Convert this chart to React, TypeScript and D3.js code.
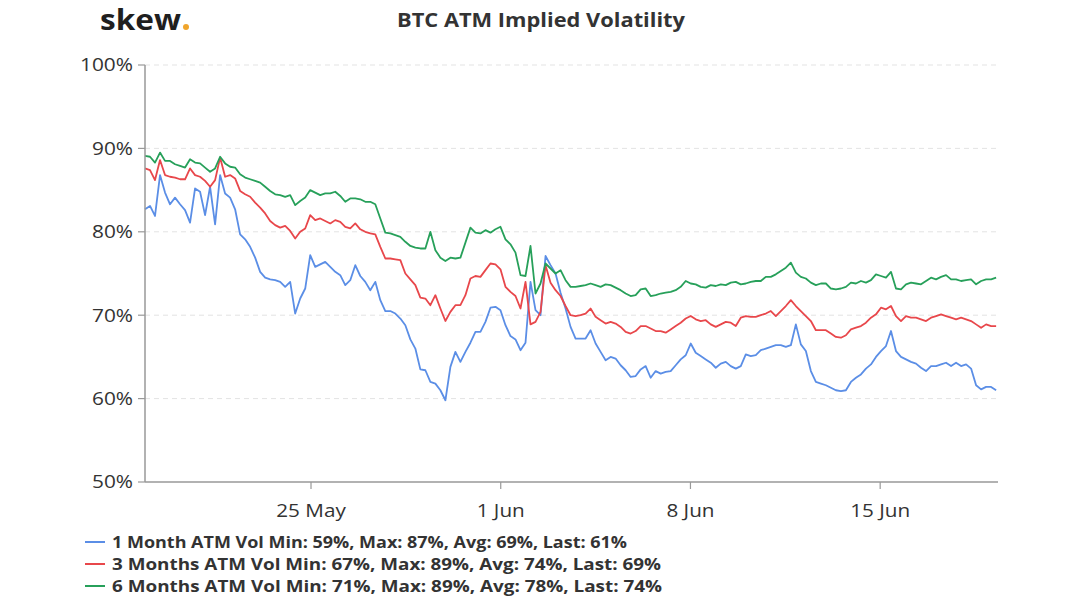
import React, { useEffect } from 'react';
import * as d3 from 'd3';

// ---- data ----
const START = new Date(2020, 4, 18, 21, 0);
const DOMAIN_END = new Date(2020, 5, 19, 8, 20);
const STEP_MINUTES = 266;

const oneMonth = [
  82.7, 83.1, 81.9, 86.8, 84.7, 83.3, 84.1, 83.3, 82.6, 81.1, 85.2, 84.8, 82.0, 85.4, 80.9, 86.8, 84.6, 84.1, 82.7, 79.7, 79.1, 78.2, 76.9, 75.2, 74.5, 74.3, 74.2, 74.0, 73.4, 74.0,
  70.2, 72.0, 73.2, 77.2, 75.8, 76.1, 76.4, 75.8, 75.2, 74.8, 73.6, 74.2, 76.0, 74.7, 74.0, 73.0, 74.0, 71.8, 70.5, 70.5, 70.2, 69.6, 68.8, 67.1, 66.0, 63.5, 63.4, 62.0, 61.8,
  61.0, 59.8, 63.8, 65.6, 64.4, 65.6, 66.7, 68.0, 68.0, 69.2, 70.9, 71.0, 70.6, 68.8, 67.5, 67.1, 65.8, 66.7, 74.0, 70.6, 70.0, 77.1, 76.0, 75.0, 72.7, 70.8, 68.6, 67.2, 67.2,
  67.2, 68.2, 66.6, 65.6, 64.6, 65.0, 64.8, 64.0, 63.4, 62.6, 62.7, 63.5, 63.9, 62.5, 63.3, 63.0, 63.2, 63.3, 64.0, 64.7, 65.2, 66.6, 65.5, 65.1, 64.7, 64.3, 63.7, 64.2, 64.4,
  63.9, 63.6, 63.9, 65.3, 65.1, 65.2, 65.8, 66.0, 66.2, 66.4, 66.4, 66.2, 66.4, 68.9, 66.5, 65.7, 63.3, 62.0, 61.8, 61.6, 61.3, 61.0, 60.9, 61.0, 62.0, 62.5, 62.9, 63.6, 64.1,
  65.0, 65.7, 66.3, 68.1, 65.7, 65.0, 64.7, 64.4, 64.2, 63.7, 63.3, 63.9, 63.9, 64.1, 64.3, 63.9, 64.3, 63.9, 64.1, 63.6, 61.6, 61.1, 61.4, 61.4, 61.0,
];

const threeMonths = [
  87.6, 87.4, 86.2, 88.6, 86.8, 86.6, 86.5, 86.3, 86.3, 87.6, 86.8, 86.6, 86.1, 85.4, 86.2, 88.9, 86.6, 86.8, 86.4, 84.9, 84.5, 84.2, 83.5, 82.9, 82.2, 81.3, 80.8, 80.5, 80.7, 80.1,
  79.2, 80.0, 80.4, 82.0, 81.4, 81.6, 81.3, 81.0, 81.4, 81.2, 80.6, 80.4, 81.0, 80.3, 80.0, 79.8, 79.7, 78.2, 76.8, 76.8, 76.7, 76.6, 75.0, 74.3, 73.6, 72.1, 72.0, 71.2, 72.4,
  70.8, 69.3, 70.4, 71.2, 71.2, 72.4, 74.4, 74.7, 74.6, 75.4, 76.2, 76.1, 75.5, 73.4, 72.8, 72.3, 70.8, 74.0, 68.9, 69.2, 70.4, 76.0, 73.9, 73.0, 72.3, 71.1, 70.0, 69.9, 70.0,
  70.2, 70.8, 69.8, 69.4, 69.0, 69.2, 69.0, 68.6, 68.0, 67.8, 68.1, 68.7, 68.7, 68.4, 68.1, 68.1, 67.9, 68.3, 68.7, 69.1, 69.6, 69.9, 69.5, 69.3, 69.4, 68.9, 68.6, 68.9, 69.2,
  69.1, 68.7, 69.7, 69.9, 69.8, 69.8, 70.0, 70.2, 70.5, 69.9, 70.5, 71.1, 71.8, 71.1, 70.5, 69.9, 69.3, 68.2, 68.2, 68.2, 67.8, 67.4, 67.3, 67.6, 68.3, 68.5, 68.7, 69.1, 69.7,
  70.1, 70.9, 70.7, 71.1, 69.9, 69.3, 69.9, 69.7, 69.7, 69.5, 69.3, 69.7, 69.9, 70.1, 69.9, 69.7, 69.5, 69.7, 69.5, 69.3, 68.9, 68.5, 68.9, 68.7, 68.7,
];

const sixMonths = [
  89.1, 89.0, 88.3, 89.5, 88.5, 88.5, 88.1, 87.9, 87.7, 88.7, 88.3, 88.2, 87.7, 87.2, 87.6, 89.0, 88.2, 87.8, 87.7, 86.9, 86.5, 86.3, 86.1, 85.9, 85.4, 84.9, 84.5, 84.4, 84.2, 84.4,
  83.2, 83.7, 84.1, 85.0, 84.7, 84.4, 84.6, 84.6, 84.8, 84.3, 83.6, 84.0, 84.0, 83.9, 83.6, 83.6, 83.3, 81.6, 79.9, 79.8, 79.6, 79.4, 78.8, 78.3, 78.1, 78.0, 78.0, 80.0, 77.8,
  76.9, 76.5, 76.9, 76.8, 76.9, 78.7, 80.5, 79.9, 79.8, 80.2, 79.9, 80.3, 80.6, 79.1, 78.5, 77.5, 74.8, 74.7, 78.3, 72.6, 73.8, 76.2, 75.6, 75.0, 75.4, 74.2, 73.4, 73.4, 73.5,
  73.6, 73.8, 73.6, 73.4, 73.7, 73.6, 73.3, 73.0, 72.6, 72.3, 72.4, 73.1, 73.2, 72.3, 72.4, 72.6, 72.7, 72.8, 73.0, 73.4, 74.1, 73.8, 73.7, 73.4, 73.3, 73.6, 73.5, 73.7, 73.6,
  73.9, 74.0, 73.7, 73.8, 74.0, 74.1, 74.1, 74.6, 74.6, 74.9, 75.3, 75.7, 76.3, 75.1, 74.6, 74.4, 73.9, 73.6, 73.8, 73.8, 73.2, 73.1, 73.2, 73.4, 73.9, 73.8, 74.1, 73.9, 74.2,
  74.9, 74.7, 74.5, 75.2, 73.2, 73.1, 73.7, 73.9, 73.8, 73.7, 74.1, 74.5, 74.3, 74.6, 74.8, 74.3, 74.3, 74.1, 74.2, 74.3, 73.7, 74.1, 74.3, 74.3, 74.5,
];

const yTicks = [50, 60, 70, 80, 90, 100];
const xTickDates = [new Date(2020, 4, 25), new Date(2020, 5, 1), new Date(2020, 5, 8), new Date(2020, 5, 15)];
const xTickLabels = ['25 May', '1 Jun', '8 Jun', '15 Jun'];

const seriesNames = ['1 Month ATM Vol', '3 Months ATM Vol', '6 Months ATM Vol'];
const seriesStats = [
  'Min: 59%, Max: 87%, Avg: 69%, Last: 61%',
  'Min: 67%, Max: 89%, Avg: 74%, Last: 69%',
  'Min: 71%, Max: 89%, Avg: 78%, Last: 74%',
];
const seriesColors = ['#5b8ee6', '#e8474b', '#27a05a'];
const seriesValues = [oneMonth, threeMonths, sixMonths];

const TITLE = 'BTC ATM Implied Volatility';

// ---- layout ----
const W = 1080;
const H = 603;
const M = { left: 145, right: 998, top: 65, bottom: 482 };
const FONT = "'Open Sans', 'Noto Sans', sans-serif";

export default function App() {
  useEffect(() => {
    document.body.style.margin = '0';
  }, []);

  const x = d3.scaleTime().domain([START, DOMAIN_END]).range([M.left, M.right]);
  const y = d3.scaleLinear().domain([50, 100]).range([M.bottom, M.top]);

  const timeAt = (i: number) => new Date(START.getTime() + i * STEP_MINUTES * 60000);
  const line = d3
    .line<number>()
    .x((_, i) => x(timeAt(i)))
    .y((d) => y(d));

  const legendWidths = [515, 549, 550];

  return (
    <svg width={W} height={H} style={{ display: 'block', background: '#fff' }} fontFamily={FONT}>
      {/* logo */}
      <text x={100} y={30} fontSize={29} fontWeight={700} fill="#1f1f1f" textLength={81} lengthAdjust="spacingAndGlyphs">
        skew
      </text>
      <circle cx={186} cy={27} r={3} fill="#f0a52c" />

      {/* title */}
      <text x={541} y={27} fontSize={19} fontWeight={700} fill="#333" textAnchor="middle" textLength={288} lengthAdjust="spacingAndGlyphs">
        {TITLE}
      </text>

      {/* gridlines */}
      {yTicks.filter((t) => t > 50).map((t) => (
        <line key={'g' + t} x1={M.left} x2={M.right} y1={y(t)} y2={y(t)} stroke="#e3e3e3" strokeWidth={1} strokeDasharray="5,4" />
      ))}

      {/* series */}
      {seriesValues.map((vals, k) => (
        <path key={'s' + k} d={line(vals) || ''} fill="none" stroke={seriesColors[k]} strokeWidth={1.8} strokeLinejoin="round" />
      ))}

      {/* y axis */}
      <line x1={M.left} x2={M.left} y1={M.top} y2={M.bottom} stroke="#999" strokeWidth={1.5} />
      {yTicks.map((t) => (
        <g key={'y' + t}>
          <line x1={M.left - 7} x2={M.left} y1={y(t)} y2={y(t)} stroke="#999" strokeWidth={1.2} />
          <text x={133} y={y(t)} dy="0.36em" fontSize={18} fill="#333" textAnchor="end" textLength={t === 100 ? 53 : 41} lengthAdjust="spacingAndGlyphs">
            {t + '%'}
          </text>
        </g>
      ))}

      {/* x axis */}
      <line x1={M.left} x2={M.right} y1={M.bottom} y2={M.bottom} stroke="#999" strokeWidth={1.5} />
      {xTickDates.map((d, i) => (
        <g key={'x' + i}>
          <line x1={x(d)} x2={x(d)} y1={M.bottom} y2={M.bottom + 7} stroke="#999" strokeWidth={1.2} />
          <g transform={`translate(${x(d)},517) scale(1.15,1)`}>
            <text x={0} y={0} fontSize={18} fill="#333" textAnchor="middle">
              {xTickLabels[i]}
            </text>
          </g>
        </g>
      ))}

      {/* legend */}
      {seriesNames.map((name, k) => (
        <g key={'l' + k}>
          <line x1={85} x2={105} y1={542 + k * 22} y2={542 + k * 22} stroke={seriesColors[k]} strokeWidth={2} />
          <text x={112} y={547.5 + k * 22} fontSize={16} fontWeight={700} fill="#333" textLength={legendWidths[k]} lengthAdjust="spacingAndGlyphs">
            {name + ' ' + seriesStats[k]}
          </text>
        </g>
      ))}
    </svg>
  );
}
